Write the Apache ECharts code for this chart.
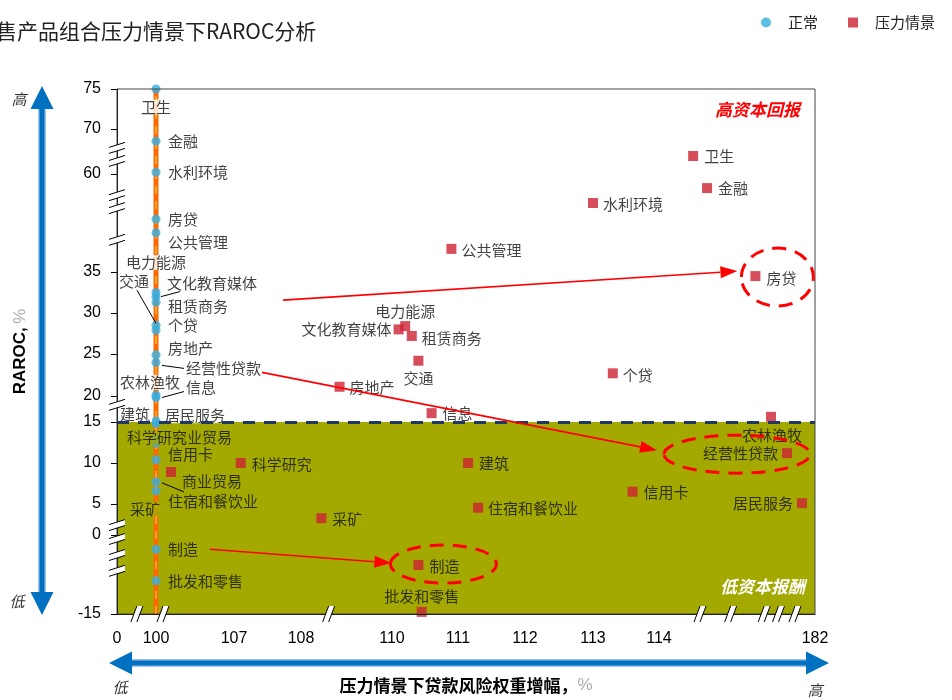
<!DOCTYPE html>
<html>
<head>
<meta charset="utf-8">
<script src="https://cdn.jsdelivr.net/npm/echarts@6/dist/echarts.min.js"></script>
<style>
  html, body { margin: 0; padding: 0; background: #fff; }
  #chart { width: 952px; height: 700px; }
</style>
</head>
<body>
<div id="chart"></div>
<script>
// ---- data ----
const categories = ['卫生', '金融', '水利环境', '房贷', '公共管理', '电力能源', '文化教育媒体', '租赁商务',
  '交通', '个贷', '房地产', '经营性贷款', '农林渔牧', '信息', '建筑', '居民服务', '商业贸易', '科学研究',
  '信用卡', '住宿和餐饮业', '采矿', '制造', '批发和零售'];
// normal scenario: RWA increase is the 100% baseline
const normalRwIncrease = 100;
const normalRaroc = [75, 67.3, 60.4, 48.5, 45.0, 32.5, 32.0, 31.3,
  28.5, 27.9, 24.9, 24.0, 20.1, 19.7, 15.2, 14.8, 12.4, 13.0,
  10.4, 7.7, 6.6, -2.7, -8.7];
// stress scenario
const stressRwIncrease = [114.5, 114.9, 113.0, 118.8, 110.9, 110.2, 110.1, 110.3,
  110.4, 113.3, 109.2, 139.3, 124.0, 110.6, 111.15, 161.2, 106.1, 107.1,
  113.6, 111.3, 108.7, 110.4, 110.45];
const stressRaroc = [64.0, 56.4, 52.6, 34.5, 40.9, 28.4, 28.0, 27.2,
  24.2, 22.7, 21.1, 11.2, 16.0, 16.7, 10.0, 5.1, 8.9, 10.0,
  6.5, 4.4, 2.7, -5.7, -14.6];
const rarocHurdle = 15;
const xTicks = [0, 100, 107, 108, 110, 111, 112, 113, 114, 182];
const yTicks = [-15, 0, 5, 10, 15, 20, 25, 30, 35, 60, 70, 75];
const highlighted = ['房贷', '经营性贷款', '制造'];

// ---- broken-axis scales (value -> axis units) ----
const xScale = [[0, 0], [100, 39], [106, 47], [107, 117], [108, 184], [109.1, 216], [110, 275], [111, 341],
  [112, 408], [113, 476], [114, 542], [114.6, 583], [116, 616], [120, 648], [130, 663], [150, 678], [182, 698]];
const yScale = [[-15, 0], [0, 79], [5, 110], [10, 151], [15, 192], [20, 218], [25, 260], [30, 301],
  [35, 342], [60, 440], [70, 485], [75, 525]];
const xBreaks = [51, 105.25, 108.95, 114.6, 115.9, 119.9, 129, 150];
const yBreaks = [65.8, 62.9, 54.6, 51.3, 43.2, 18.3, 1.6, -0.76, -3.8, -6.8];

function piecewise(v, table) {
  if (v <= table[0][0]) return table[0][1];
  for (let i = 1; i < table.length; i++) {
    const [v0, p0] = table[i - 1], [v1, p1] = table[i];
    if (v <= v1) return p0 + (v - v0) / (v1 - v0) * (p1 - p0);
  }
  return table[table.length - 1][1];
}
const tx = v => piecewise(v, xScale);
const ty = v => piecewise(v, yScale);
const X_MAX = tx(xTicks[xTicks.length - 1]);
const Y_MAX = ty(yTicks[yTicks.length - 1]);

// ---- label styling ----
const FONT = 'Noto Sans CJK SC';
const OLIVE = '#A3A900';
const normalLabelPlace = {
  '卫生': ['center', 0, 18], '金融': ['left', 10, 0], '水利环境': ['left', 10, 0], '房贷': ['left', 10, 0],
  '公共管理': ['left', 10, 9], '电力能源': ['center', 0, -30], '文化教育媒体': ['left', 9, -13],
  '租赁商务': ['left', 10, 4], '交通': ['center', -22, -44], '个贷': ['left', 10, -5], '房地产': ['left', 10, -7],
  '经营性贷款': ['left', 28, 6], '农林渔牧': ['center', -6, -13], '信息': ['left', 28, -10],
  '建筑': ['center', -21, -7], '居民服务': ['left', 7, -8], '商业贸易': ['left', 14, -6],
  '科学研究': ['center', 1, -1], '信用卡': ['left', 10, -5], '住宿和餐饮业': ['left', 10, 19],
  '采矿': ['center', -11, 18], '制造': ['left', 10, 0], '批发和零售': ['left', 10, 0]
};
const stressLabelPlace = {
  '卫生': ['left', 11, 0], '金融': ['left', 11, 0], '水利环境': ['left', 10, 1], '房贷': ['left', 11, 2],
  '公共管理': ['left', 10, 1], '电力能源': ['center', 0, -15], '文化教育媒体': ['right', -7, 0],
  '租赁商务': ['left', 10, 2], '交通': ['center', 0, 18], '个贷': ['left', 10, 2], '房地产': ['left', 10, 1],
  '经营性贷款': ['right', -9, 0], '农林渔牧': ['center', 1, 18], '信息': ['left', 11, 0],
  '建筑': ['left', 11, 0], '居民服务': ['right', -9, 0], '商业贸易': ['left', 11, 9],
  '科学研究': ['left', 11, 1], '信用卡': ['left', 11, 1], '住宿和餐饮业': ['left', 10, 1],
  '采矿': ['left', 11, 1], '制造': ['left', 11, 1], '批发和零售': ['center', 0, -16]
};
// leader lines for the baseline labels: [from offset, to offset] relative to the point
const normalLeaders = {
  '交通': [[-19, -35], [0, -2]], '文化教育媒体': [[5, 0], [24, -5]], '经营性贷款': [[6, 3], [28, 6]],
  '信息': [[6, 0], [28, -6]], '住宿和餐饮业': [[6, 1], [28, 10]]
};
// arrow (start offset from baseline point, end offset from stressed point) and ring around stressed point
const highlightStyle = {
  '房贷': { start: [127, 81], end: [-18, -5], ring: [22, 1, 36, 29] },
  '经营性贷款': { start: [106, 10], end: [-130, -3], ring: [-50, 1, 73, 19] },
  '制造': { start: [54, 0], end: [-27, -2], ring: [25, -1, 53, 19] }
};

function labelOf(place, bg) {
  const [align, dx, dy] = place;
  return {
    show: true, position: 'inside', align: align, verticalAlign: 'middle', formatter: '{b}',
    offset: [dx, dy], fontSize: 15, fontFamily: FONT, color: '#111',
    backgroundColor: bg || 'transparent', padding: bg ? [0, 2] : 0
  };
}

const normalData = categories.map((c, i) => {
  const yPos = ty(normalRaroc[i]);
  const place = normalLabelPlace[c];
  const labelY = yPos - place[2];
  return {
    name: c, value: [tx(normalRwIncrease), yPos],
    label: labelOf(place, labelY > ty(rarocHurdle) - 4 ? '#ffffff' : OLIVE)
  };
});
const stressData = categories.map((c, i) => ({
  name: c, value: [tx(stressRwIncrease[i]), ty(stressRaroc[i])],
  label: labelOf(stressLabelPlace[c], null)
}));
const baseline = [[tx(normalRwIncrease), ty(yTicks[0])], [tx(normalRwIncrease), Y_MAX]];

const xTickPos = xTicks.map(tx);
const yTickPos = yTicks.map(ty);
function tickText(v, pos, ticks) {
  let best = 0;
  pos.forEach((p, i) => { if (Math.abs(p - v) < Math.abs(pos[best] - v)) best = i; });
  return String(ticks[best]);
}

const chart = echarts.init(document.getElementById('chart'), null, { renderer: 'canvas' });
chart.setOption({
  animation: false,
  backgroundColor: '#ffffff',
  title: {
    text: '售产品组合压力情景下RAROC分析', left: -9, top: 16,
    textStyle: { fontSize: 21, fontWeight: 'normal', color: '#222', fontFamily: FONT }
  },
  legend: {
    left: 756, top: 10, itemWidth: 10, itemHeight: 10, itemGap: 30,
    data: ['正常', '压力情景'],
    formatter: '{t|{name}}',
    textStyle: { fontSize: 15, color: '#222', fontFamily: FONT, rich: { t: { padding: [0, 0, 0, 12], fontSize: 15, fontFamily: FONT } } }
  },
  grid: { left: 117, right: 137, top: 89, bottom: 86, show: true, borderColor: '#444', borderWidth: 1, z: 10 },
  xAxis: {
    type: 'value', min: 0, max: X_MAX, z: 5,
    axisLine: { show: true, lineStyle: { color: '#000', width: 1 } },
    axisTick: { show: false },
    splitLine: { show: false },
    axisLabel: {
      customValues: xTickPos, margin: 17, fontSize: 16, color: '#000', fontFamily: 'Liberation Sans',
      formatter: v => tickText(v, xTickPos, xTicks)
    },
    name: '{b|压力情景下贷款风险权重增幅，}{g|%}', nameLocation: 'middle', nameGap: 63,
    nameTextStyle: {
      rich: {
        b: { fontSize: 17, fontWeight: 'bold', color: '#000', fontFamily: FONT },
        g: { fontSize: 17, color: '#aaa', fontFamily: 'Liberation Sans' }
      }
    }
  },
  yAxis: {
    type: 'value', min: 0, max: Y_MAX, z: 5,
    axisLine: { show: true, lineStyle: { color: '#000', width: 1 } },
    axisTick: { show: true, length: 6, customValues: yTickPos, lineStyle: { color: '#000' } },
    splitLine: { show: false },
    axisLabel: {
      customValues: yTickPos, margin: 16, fontSize: 16, color: '#000', fontFamily: 'Liberation Sans',
      formatter: v => tickText(v, yTickPos, yTicks)
    },
    name: '{b|RAROC,} {g|%}', nameLocation: 'middle', nameGap: 88, nameRotate: 90,
    nameTextStyle: {
      rich: {
        b: { fontSize: 17, fontWeight: 'bold', color: '#000', fontFamily: 'Liberation Sans' },
        g: { fontSize: 17, color: '#aaa', fontFamily: 'Liberation Sans' }
      }
    }
  },
  series: [
    {
      name: 'zone', type: 'line', z: 1, data: baseline, symbol: 'none', silent: true,
      lineStyle: { width: 0 },
      markArea: {
        silent: true, itemStyle: { color: OLIVE, opacity: 1 },
        data: [[{ coord: [0, ty(yTicks[0])] }, { coord: [X_MAX, ty(rarocHurdle)] }]]
      },
      markLine: {
        silent: true, symbol: 'none', label: { show: false },
        lineStyle: { color: '#1F3864', width: 3, type: [12, 9] },
        data: [{ yAxis: ty(rarocHurdle) }]
      }
    },
    {
      name: 'baseline', type: 'line', z: 2, data: baseline, symbol: 'none', silent: true,
      lineStyle: { color: '#FF6A00', width: 5 }
    },
    {
      name: 'baseline2', type: 'line', z: 2, data: baseline, symbol: 'none', silent: true,
      lineStyle: { color: '#FFA630', width: 2, type: [8, 7] }
    },
    {
      name: '正常', type: 'scatter', z: 3, symbol: 'circle', symbolSize: 9,
      itemStyle: { color: '#35AEE2' }, data: normalData
    },
    {
      name: '压力情景', type: 'scatter', z: 4, symbol: 'rect', symbolSize: 10,
      itemStyle: { color: '#CC2233' }, data: stressData
    }
  ]
});

// ---- annotations drawn on top of the plot ----
const toPx = (x, y) => chart.convertToPixel({ gridIndex: 0 }, [x, y]);
const gfx = [];
const BLACK = { stroke: '#000', lineWidth: 1 };

// axis break marks
const origin = toPx(0, 0);
yBreaks.forEach(v => {
  const p = toPx(0, ty(v));
  const x = origin[0], y = p[1];
  gfx.push({ type: 'polygon', z: 100, shape: { points: [[x - 8, y - 0.5], [x + 8, y - 5.5], [x + 8, y + 0.5], [x - 8, y + 5.5]] }, style: { fill: '#fff' } });
  gfx.push({ type: 'line', z: 101, shape: { x1: x - 8, y1: y - 0.5, x2: x + 8, y2: y - 5.5 }, style: BLACK });
  gfx.push({ type: 'line', z: 101, shape: { x1: x - 8, y1: y + 5.5, x2: x + 8, y2: y + 0.5 }, style: BLACK });
});
xBreaks.forEach(v => {
  const p = toPx(tx(v), 0);
  const x = p[0], y = origin[1];
  gfx.push({ type: 'polygon', z: 100, shape: { points: [[x - 6, y + 8], [x, y - 8], [x + 6, y - 8], [x, y + 8]] }, style: { fill: '#fff' } });
  gfx.push({ type: 'line', z: 101, shape: { x1: x - 6, y1: y + 8, x2: x, y2: y - 8 }, style: BLACK });
  gfx.push({ type: 'line', z: 101, shape: { x1: x, y1: y + 8, x2: x + 6, y2: y - 8 }, style: BLACK });
});

// leader lines
normalData.forEach(d => {
  const ld = normalLeaders[d.name];
  if (!ld) return;
  const p = toPx(d.value[0], d.value[1]);
  gfx.push({ type: 'line', z: 60, shape: { x1: p[0] + ld[0][0], y1: p[1] + ld[0][1], x2: p[0] + ld[1][0], y2: p[1] + ld[1][1] }, style: BLACK });
});

// arrows and rings
function arrow(a, b, color) {
  const ang = Math.atan2(b[1] - a[1], b[0] - a[0]);
  const len = 17, half = 6;
  const bx = b[0] - len * Math.cos(ang), by = b[1] - len * Math.sin(ang);
  const nx = -Math.sin(ang) * half, ny = Math.cos(ang) * half;
  gfx.push({ type: 'line', z: 90, shape: { x1: a[0], y1: a[1], x2: bx, y2: by }, style: { stroke: color, lineWidth: 1.6 } });
  gfx.push({ type: 'polygon', z: 90, shape: { points: [[b[0], b[1]], [bx + nx, by + ny], [bx - nx, by - ny]] }, style: { fill: color } });
}
highlighted.forEach(name => {
  const i = categories.indexOf(name);
  const st = highlightStyle[name];
  const pn = toPx(normalData[i].value[0], normalData[i].value[1]);
  const ps = toPx(stressData[i].value[0], stressData[i].value[1]);
  arrow([pn[0] + st.start[0], pn[1] + st.start[1]], [ps[0] + st.end[0], ps[1] + st.end[1]], '#FF0000');
  gfx.push({
    type: 'ellipse', z: 90,
    shape: { cx: ps[0] + st.ring[0], cy: ps[1] + st.ring[1], rx: st.ring[2], ry: st.ring[3] },
    style: { fill: 'none', stroke: '#FF0000', lineWidth: 3, lineDash: [14, 9] }
  });
});

// quadrant captions
const gr = [toPx(0, 0), toPx(X_MAX, Y_MAX)];
gfx.push({ type: 'text', z: 95, style: { text: '高资本回报', x: gr[1][0] - 15, y: gr[1][1] + 21, align: 'right', verticalAlign: 'middle', fill: '#FF0000', font: 'italic bold 17px "Noto Sans CJK SC"' } });
gfx.push({ type: 'text', z: 95, style: { text: '低资本报酬', x: gr[1][0] - 10, y: gr[0][1] - 27, align: 'right', verticalAlign: 'middle', fill: '#FFFFFF', font: 'italic bold 17px "Noto Sans CJK SC"' } });

// direction arrows beside the axes
const BLUE = '#0070C0', EDGE = '#9DC3E6';
gfx.push({ type: 'line', z: 50, shape: { x1: 42, y1: 105, x2: 42, y2: 595 }, style: { stroke: EDGE, lineWidth: 8 } });
gfx.push({ type: 'line', z: 51, shape: { x1: 42, y1: 105, x2: 42, y2: 595 }, style: { stroke: BLUE, lineWidth: 5 } });
gfx.push({ type: 'polygon', z: 52, shape: { points: [[42, 86], [30.5, 109], [53.5, 109]] }, style: { fill: BLUE } });
gfx.push({ type: 'polygon', z: 52, shape: { points: [[42, 615], [30.5, 592], [53.5, 592]] }, style: { fill: BLUE } });
gfx.push({ type: 'line', z: 50, shape: { x1: 128, y1: 663, x2: 810, y2: 663 }, style: { stroke: EDGE, lineWidth: 8 } });
gfx.push({ type: 'line', z: 51, shape: { x1: 128, y1: 663, x2: 810, y2: 663 }, style: { stroke: BLUE, lineWidth: 5 } });
gfx.push({ type: 'polygon', z: 52, shape: { points: [[109, 663], [132, 651.5], [132, 674.5]] }, style: { fill: BLUE } });
gfx.push({ type: 'polygon', z: 52, shape: { points: [[829, 663], [806, 651.5], [806, 674.5]] }, style: { fill: BLUE } });
const dirFont = 'italic 15px "Noto Sans CJK SC"';
[['高', 19, 99], ['低', 17, 601], ['低', 120, 687], ['高', 815, 690]].forEach(([t, x, y]) => {
  gfx.push({ type: 'text', z: 52, style: { text: t, x: x, y: y, align: 'center', verticalAlign: 'middle', fill: '#333', font: dirFont } });
});

chart.setOption({ graphic: gfx });
</script>
</body>
</html>
